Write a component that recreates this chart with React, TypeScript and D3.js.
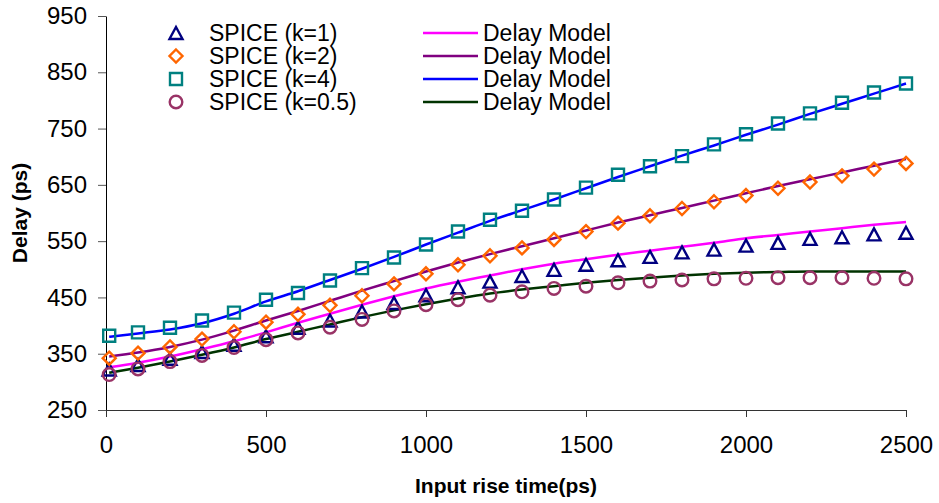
import React, { useEffect, useRef } from "react";
import * as d3 from "d3";

// input rise time (ps)
const riseTimes = [10, 100, 200, 300, 400, 500, 600, 700, 800, 900, 1000, 1100, 1200,
  1300, 1400, 1500, 1600, 1700, 1800, 1900, 2000, 2100, 2200, 2300, 2400, 2500];

// SPICE delays (ps)
const spiceK1 = [322, 330, 341, 353, 366, 381, 396, 409, 425, 440, 454, 468, 478,
  488, 499, 508, 516, 522, 530, 535, 542, 547, 554, 557, 562, 565];
const spiceK2 = [342, 351, 362, 376, 389, 406, 420, 436, 453, 474, 492, 508, 524,
  538, 553, 567, 582, 595, 608, 620, 631, 644, 655, 666, 678, 688];
const spiceK4 = [382, 388, 396, 409, 423, 446, 458, 480, 502, 521, 544, 567, 588,
  604, 624, 645, 668, 683, 701, 722, 740, 759, 777, 796, 814, 830];
const spiceK05 = [313, 323, 336, 347, 361, 375, 387, 397, 411, 426, 437, 446, 454,
  460, 466, 470, 476, 479, 481, 483, 484, 485, 485, 485, 484, 483];

// delay model curves (ps)
const modelK1 = [326, 334, 345, 358, 372, 388, 405, 421, 437, 452, 466, 478, 489,
  500, 510, 518, 526, 533, 540, 547, 555, 561, 567, 573, 579, 584];
const modelK2 = [345, 352, 362, 375, 391, 409, 426, 444, 462, 479, 496, 512, 527,
  541, 555, 569, 583, 596, 609, 622, 635, 648, 660, 672, 684, 696];
const modelK4 = [380, 386, 393, 404, 421, 443, 461, 481, 501, 522, 544, 565, 586,
  605, 624, 644, 664, 683, 702, 720, 739, 757, 776, 794, 812, 830];
const modelK05 = [316, 325, 336, 348, 361, 376, 389, 402, 415, 427, 438, 448, 457,
  464, 470, 476, 481, 485, 489, 492, 494, 495, 496, 496, 496, 496];

const spiceLabels = ["SPICE (k=1)", "SPICE (k=2)", "SPICE (k=4)", "SPICE (k=0.5)"];
const modelLabel = "Delay Model";
const xTicks = [0, 500, 1000, 1500, 2000, 2500];
const yTicks = [250, 350, 450, 550, 650, 750, 850, 950];

const FONT = "'Liberation Sans', Arial, Helvetica, sans-serif";

// marker path builders, centred on 0,0
function markerPath(shape: string): string {
  if (shape === "triangle") return "M0,-6L6.5,6L-6.5,6Z";
  if (shape === "diamond") return "M0,-6.5L6.5,0L0,6.5L-6.5,0Z";
  if (shape === "square") return "M-6,-6L6,-6L6,6L-6,6Z";
  return d3.arc()({ innerRadius: 0, outerRadius: 6.3, startAngle: 0, endAngle: 2 * Math.PI }) as string;
}

export default function App() {
  const ref = useRef<SVGSVGElement | null>(null);

  useEffect(() => {
    const svg = d3.select(ref.current);
    svg.selectAll("*").remove();

    const left = 106, right = 906, top = 16, bottom = 410;

    const x = d3.scaleLinear().domain([0, 2500]).range([left, right]);
    const y = d3.scaleLinear().domain([250, 950]).range([bottom, top]);

    const spice = [
      { vals: spiceK1, shape: "triangle", color: "#000080" },
      { vals: spiceK2, shape: "diamond", color: "#FF6600" },
      { vals: spiceK4, shape: "square", color: "#008080" },
      { vals: spiceK05, shape: "circle", color: "#993366" },
    ];
    const models = [
      { vals: modelK1, color: "#FF00FF" },
      { vals: modelK2, color: "#800080" },
      { vals: modelK4, color: "#0000FF" },
      { vals: modelK05, color: "#003300" },
    ];

    // axes
    const yAxis = svg.append("g").attr("transform", `translate(${left},0)`)
      .call(d3.axisLeft(y).tickValues(yTicks).tickFormat(d3.format("d")).tickSize(8).tickPadding(11).tickSizeOuter(0));
    yAxis.selectAll("text").style("font-family", FONT).style("font-size", "24px").attr("fill", "#000");
    yAxis.select(".domain").attr("stroke", "#000");
    yAxis.selectAll(".tick line").attr("stroke", "#555");

    const xAxis = svg.append("g").attr("transform", `translate(0,${bottom})`)
      .call(d3.axisBottom(x).tickValues(xTicks).tickFormat(d3.format("d")).tickSize(7).tickPadding(19).tickSizeOuter(0));
    xAxis.selectAll("text").style("font-family", FONT).style("font-size", "24px").attr("fill", "#000");
    xAxis.select(".domain").attr("stroke", "#333");
    xAxis.selectAll(".tick line").attr("stroke", "#333");

    // axis titles
    svg.append("text")
      .attr("transform", `translate(27,${(top + bottom) / 2}) rotate(-90)`)
      .attr("text-anchor", "middle")
      .style("font-family", FONT).style("font-size", "21px").style("font-weight", "bold")
      .text("Delay (ps)");
    svg.append("text")
      .attr("x", 506).attr("y", 493)
      .attr("text-anchor", "middle")
      .style("font-family", FONT).style("font-size", "21px").style("font-weight", "bold")
      .text("Input rise time(ps)");

    // model lines
    const line = d3.line<number>().x((d, i) => x(riseTimes[i])).y((d) => y(d)).curve(d3.curveMonotoneX);
    svg.selectAll(".model")
      .data(models)
      .join("path")
      .attr("class", "model")
      .attr("d", (m) => line(m.vals))
      .attr("fill", "none")
      .attr("stroke", (m) => m.color)
      .attr("stroke-width", 2.5);

    // SPICE markers
    spice.forEach((s) => {
      svg.append("g")
        .selectAll("path")
        .data(s.vals)
        .join("path")
        .attr("transform", (d, i) => `translate(${x(riseTimes[i])},${y(d)})`)
        .attr("d", markerPath(s.shape))
        .attr("fill", "none")
        .attr("stroke", s.color)
        .attr("stroke-width", 2.4);
    });

    // legend
    const rowY = [33, 56, 79, 102];
    const legend = svg.append("g");
    spice.forEach((s, i) => {
      legend.append("path")
        .attr("transform", `translate(176,${rowY[i]})`)
        .attr("d", markerPath(s.shape))
        .attr("fill", "none").attr("stroke", s.color).attr("stroke-width", 2.4);
      legend.append("text")
        .attr("x", 209).attr("y", rowY[i]).attr("dy", "0.36em")
        .style("font-family", FONT).style("font-size", "23px")
        .text(spiceLabels[i]);
    });
    models.forEach((m, i) => {
      legend.append("line")
        .attr("x1", 423).attr("x2", 478).attr("y1", rowY[i]).attr("y2", rowY[i])
        .attr("stroke", m.color).attr("stroke-width", 2.5);
      legend.append("text")
        .attr("x", 483).attr("y", rowY[i]).attr("dy", "0.36em")
        .style("font-family", FONT).style("font-size", "23px")
        .text(modelLabel);
    });
  }, []);

  return (
    <svg ref={ref} width={939} height={503}
      style={{ position: "absolute", left: 0, top: 0, background: "#fff" }} />
  );
}
